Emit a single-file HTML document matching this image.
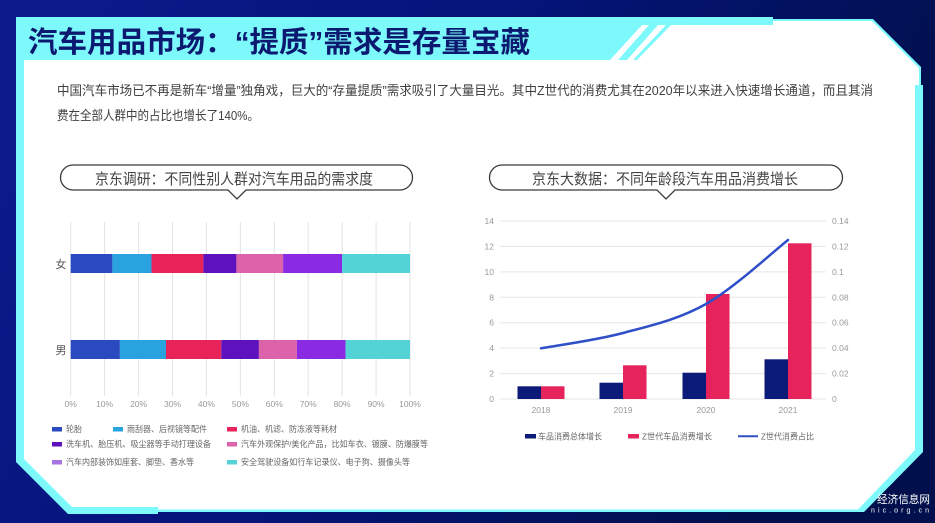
<!DOCTYPE html>
<html>
<head>
<meta charset="utf-8">
<style>
html,body{margin:0;padding:0;width:935px;height:523px;overflow:hidden;background:#05157a;}
svg{display:block;}
text{font-family:"Liberation Sans","Noto Sans CJK SC",sans-serif;}
</style>
</head>
<body>
<svg width="935" height="523" viewBox="0 0 935 523" xmlns="http://www.w3.org/2000/svg">
<defs>
<linearGradient id="bg" x1="0" y1="0" x2="1" y2="0.3">
<stop offset="0" stop-color="#0b1b8c"/>
<stop offset="0.5" stop-color="#04147a"/>
<stop offset="1" stop-color="#01104c"/>
</linearGradient>
</defs>
<rect x="0" y="0" width="935" height="523" fill="url(#bg)"/>

<!-- outer cyan border -->
<polygon fill="#7ef9fb" points="16,17 773,17 773,19 873,19 921,67 921,85 923,85 923,452 864,512 158,512 158,514 68,514 16,462"/>
<!-- white panel -->
<polygon fill="#ffffff" points="24,25 773,25 773,21 872,21 919,68 919,85 915,85 915,450 858,509.5 158,509.5 158,507 72,507 24,459"/>
<!-- header cyan -->
<polygon fill="#7ef9fb" points="16,17 773,17 773,25 671,25 637,60 16,60"/>
<polygon fill="#ffffff" points="642,25 649,25 618,60 610,60"/>
<polygon fill="#ffffff" points="658,25 666,25 633,60 627,60"/>

<!-- title -->
<text x="28" y="52" font-size="29" font-weight="bold" fill="#0b1a70" textLength="502" lengthAdjust="spacingAndGlyphs">汽车用品市场：“提质”需求是存量宝藏</text>

<!-- paragraph -->
<text x="57" y="95" font-size="13" fill="#404040" textLength="816" lengthAdjust="spacingAndGlyphs">中国汽车市场已不再是新车“增量”独角戏，巨大的“存量提质”需求吸引了大量目光。其中Z世代的消费尤其在2020年以来进入快速增长通道，而且其消</text>
<text x="57" y="120" font-size="13" fill="#404040" textLength="202" lengthAdjust="spacingAndGlyphs">费在全部人群中的占比也增长了140%。</text>

<!-- left pill -->
<path d="M73,165 H400 A12.5,12.5 0 0 1 400,190 H246 L237,199 L228,190 H73 A12.5,12.5 0 0 1 73,165 Z" fill="#ffffff" stroke="#3a3a3a" stroke-width="1.3"/>
<text x="95" y="184" font-size="15" fill="#444" textLength="278" lengthAdjust="spacingAndGlyphs">京东调研：不同性别人群对汽车用品的需求度</text>

<!-- right pill -->
<path d="M502,165 H830 A12.5,12.5 0 0 1 830,190 H675 L666,199 L657,190 H502 A12.5,12.5 0 0 1 502,165 Z" fill="#ffffff" stroke="#3a3a3a" stroke-width="1.3"/>
<text x="532" y="184" font-size="15" fill="#444" textLength="266" lengthAdjust="spacingAndGlyphs">京东大数据：不同年龄段汽车用品消费增长</text>

<!-- left chart grid -->
<g stroke="#e3e3e3" stroke-width="1">
<line x1="70.7" y1="222" x2="70.7" y2="396"/>
<line x1="104.6" y1="222" x2="104.6" y2="396"/>
<line x1="138.6" y1="222" x2="138.6" y2="396"/>
<line x1="172.5" y1="222" x2="172.5" y2="396"/>
<line x1="206.4" y1="222" x2="206.4" y2="396"/>
<line x1="240.4" y1="222" x2="240.4" y2="396"/>
<line x1="274.3" y1="222" x2="274.3" y2="396"/>
<line x1="308.2" y1="222" x2="308.2" y2="396"/>
<line x1="342.1" y1="222" x2="342.1" y2="396"/>
<line x1="376.1" y1="222" x2="376.1" y2="396"/>
<line x1="410" y1="222" x2="410" y2="396"/>
</g>
<g font-size="8.5" fill="#999" text-anchor="middle">
<text x="70.7" y="407">0%</text>
<text x="104.6" y="407">10%</text>
<text x="138.6" y="407">20%</text>
<text x="172.5" y="407">30%</text>
<text x="206.4" y="407">40%</text>
<text x="240.4" y="407">50%</text>
<text x="274.3" y="407">60%</text>
<text x="308.2" y="407">70%</text>
<text x="342.1" y="407">80%</text>
<text x="376.1" y="407">90%</text>
<text x="410" y="407">100%</text>
</g>
<text x="61" y="268" font-size="11" fill="#555" text-anchor="middle">女</text>
<text x="61" y="354" font-size="11" fill="#555" text-anchor="middle">男</text>

<!-- women bar -->
<rect x="70.7" y="254" width="41.7" height="19" fill="#2a4bbf"/>
<rect x="112.4" y="254" width="39.1" height="19" fill="#29a3e0"/>
<rect x="151.5" y="254" width="51.9" height="19" fill="#e8235a"/>
<rect x="203.4" y="254" width="33" height="19" fill="#5e12bd"/>
<rect x="236.4" y="254" width="46.7" height="19" fill="#dc62a9"/>
<rect x="283.1" y="254" width="59" height="19" fill="#8b2ae3"/>
<rect x="342.1" y="254" width="67.9" height="19" fill="#54d3d6"/>
<!-- men bar -->
<rect x="70.7" y="340" width="49.2" height="19" fill="#2a4bbf"/>
<rect x="119.9" y="340" width="46.1" height="19" fill="#29a3e0"/>
<rect x="166" y="340" width="55.3" height="19" fill="#e8235a"/>
<rect x="221.3" y="340" width="37.6" height="19" fill="#5e12bd"/>
<rect x="258.9" y="340" width="38" height="19" fill="#dc62a9"/>
<rect x="296.9" y="340" width="48.7" height="19" fill="#8b2ae3"/>
<rect x="345.6" y="340" width="64.4" height="19" fill="#54d3d6"/>

<!-- left legend -->
<rect x="52" y="427" width="10" height="4.5" fill="#2a4bbf"/>
<text x="66" y="432" font-size="8.3" fill="#666" textLength="16" lengthAdjust="spacingAndGlyphs">轮胎</text>
<rect x="113" y="427" width="10" height="4.5" fill="#29a3e0"/>
<text x="127" y="432" font-size="8.3" fill="#666" textLength="80" lengthAdjust="spacingAndGlyphs">雨刮器、后视镜等配件</text>
<rect x="227" y="427" width="10" height="4.5" fill="#e8235a"/>
<text x="241" y="432" font-size="8.3" fill="#666" textLength="96" lengthAdjust="spacingAndGlyphs">机油、机滤、防冻液等耗材</text>

<rect x="52" y="442" width="10" height="4.5" fill="#5e12bd"/>
<text x="66" y="447" font-size="8.3" fill="#666" textLength="145" lengthAdjust="spacingAndGlyphs">洗车机、胎压机、吸尘器等手动打理设备</text>
<rect x="227" y="442" width="10" height="4.5" fill="#dc62a9"/>
<text x="241" y="447" font-size="8.3" fill="#666" textLength="187" lengthAdjust="spacingAndGlyphs">汽车外观保护/美化产品，比如车衣、镀膜、防爆膜等</text>

<rect x="52" y="460" width="10" height="4.5" fill="#a874e2"/>
<text x="66" y="465" font-size="8.3" fill="#666" textLength="128" lengthAdjust="spacingAndGlyphs">汽车内部装饰如座套、脚垫、香水等</text>
<rect x="227" y="460" width="10" height="4.5" fill="#54d3d6"/>
<text x="241" y="465" font-size="8.3" fill="#666" textLength="169" lengthAdjust="spacingAndGlyphs">安全驾驶设备如行车记录仪、电子狗、摄像头等</text>

<!-- right chart grid -->
<g stroke="#e6e6e6" stroke-width="1">
<line x1="500" y1="399" x2="826" y2="399"/>
<line x1="500" y1="373.6" x2="826" y2="373.6"/>
<line x1="500" y1="348.1" x2="826" y2="348.1"/>
<line x1="500" y1="322.7" x2="826" y2="322.7"/>
<line x1="500" y1="297.3" x2="826" y2="297.3"/>
<line x1="500" y1="271.9" x2="826" y2="271.9"/>
<line x1="500" y1="246.4" x2="826" y2="246.4"/>
<line x1="500" y1="221" x2="826" y2="221"/>
</g>
<g font-size="8.5" fill="#999" text-anchor="end">
<text x="494" y="402">0</text>
<text x="494" y="376.6">2</text>
<text x="494" y="351.1">4</text>
<text x="494" y="325.7">6</text>
<text x="494" y="300.3">8</text>
<text x="494" y="274.9">10</text>
<text x="494" y="249.4">12</text>
<text x="494" y="224">14</text>
</g>
<g font-size="8.5" fill="#999" text-anchor="start">
<text x="832" y="402">0</text>
<text x="832" y="376.6">0.02</text>
<text x="832" y="351.1">0.04</text>
<text x="832" y="325.7">0.06</text>
<text x="832" y="300.3">0.08</text>
<text x="832" y="274.9">0.1</text>
<text x="832" y="249.4">0.12</text>
<text x="832" y="224">0.14</text>
</g>
<g font-size="8.5" fill="#999" text-anchor="middle">
<text x="541" y="413">2018</text>
<text x="623" y="413">2019</text>
<text x="706" y="413">2020</text>
<text x="788" y="413">2021</text>
</g>

<!-- bars -->
<rect x="517.5" y="386.3" width="23.5" height="12.7" fill="#0c1a78"/>
<rect x="541" y="386.3" width="23.5" height="12.7" fill="#e6235a"/>
<rect x="599.5" y="382.7" width="23.5" height="16.3" fill="#0c1a78"/>
<rect x="623" y="365.3" width="23.5" height="33.7" fill="#e6235a"/>
<rect x="682.5" y="372.7" width="23.5" height="26.3" fill="#0c1a78"/>
<rect x="706" y="294" width="23.5" height="105" fill="#e6235a"/>
<rect x="764.5" y="359.3" width="23.5" height="39.7" fill="#0c1a78"/>
<rect x="788" y="243.3" width="23.5" height="155.7" fill="#e6235a"/>

<!-- line -->
<path d="M541,348.3 C554.7,345.75 595.5,340.4 623,333 C650.5,325.6 678.5,319.5 706,304 C733.5,288.5 774.3,250.7 788,240" fill="none" stroke="#2f4fc9" stroke-width="2.5" stroke-linecap="round"/>

<!-- right legend -->
<rect x="525" y="434" width="11" height="4.5" fill="#0c1a78"/>
<text x="538" y="439.5" font-size="8.3" fill="#666" textLength="64" lengthAdjust="spacingAndGlyphs">车品消费总体增长</text>
<rect x="628" y="434" width="11" height="4.5" fill="#e6235a"/>
<text x="642" y="439.5" font-size="8.3" fill="#666" textLength="70" lengthAdjust="spacingAndGlyphs">Z世代车品消费增长</text>
<line x1="738" y1="436.3" x2="758" y2="436.3" stroke="#2f4fc9" stroke-width="2"/>
<text x="761" y="439.5" font-size="8.3" fill="#666" textLength="53" lengthAdjust="spacingAndGlyphs">Z世代消费占比</text>

<!-- logo -->
<text x="877" y="503" font-size="11" fill="#ffffff" textLength="53" lengthAdjust="spacingAndGlyphs">经济信息网</text>
<text x="871" y="512.5" font-size="7" fill="#ffffff" textLength="58" lengthAdjust="spacing">nic.org.cn</text>
</svg>
</body>
</html>
